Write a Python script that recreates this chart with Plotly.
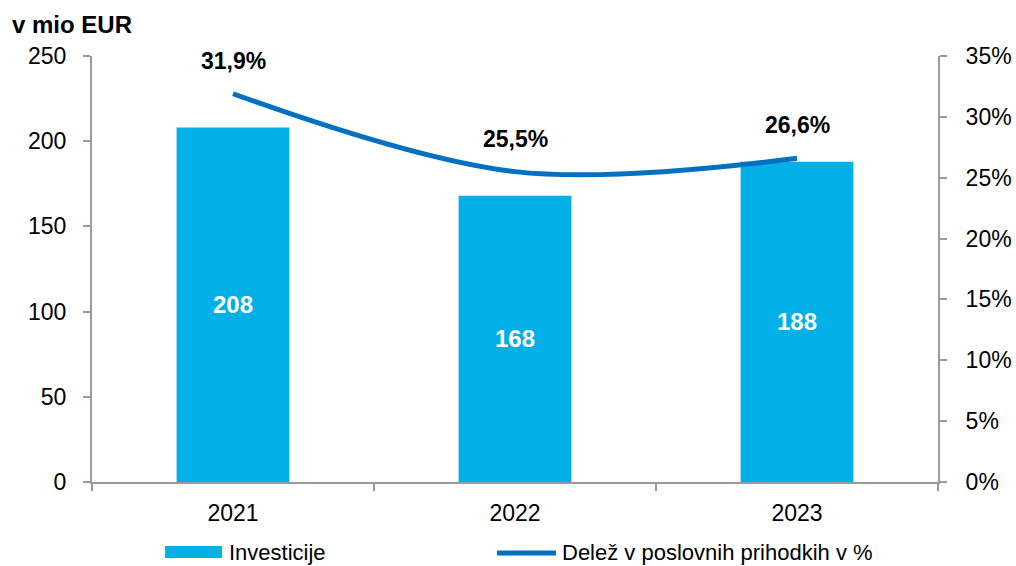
import plotly.graph_objects as go

years = ["2021", "2022", "2023"]
investicije = [208, 168, 188]
delez = [31.9, 25.5, 26.6]
delez_labels = ["31,9%", "25,5%", "26,6%"]
left_ticks = [0, 50, 100, 150, 200, 250]
right_ticks = [0, 5, 10, 15, 20, 25, 30, 35]
right_tick_text = ["0%", "5%", "10%", "15%", "20%", "25%", "30%", "35%"]

BAR = "#00B0E6"
LINE = "#0070C0"
AX = "#9a9a9a"
FONT = "Liberation Sans, Arial, sans-serif"

fig = go.Figure()
fig.add_trace(go.Bar(
    x=years, y=investicije, name="Investicije",
    marker=dict(color=BAR, line=dict(width=0)),
    width=0.4,
    text=[str(v) for v in investicije], textposition="inside",
    insidetextanchor="middle",
    textfont=dict(color="white", size=24, family=FONT, weight="bold"),
    showlegend=False,
))
fig.add_trace(go.Scatter(
    x=years, y=delez, name="Delež v poslovnih prihodkih v %",
    mode="lines", yaxis="y2",
    line=dict(color=LINE, width=5, shape="spline", smoothing=1.0),
    showlegend=False,
))

for i, (v, lab) in enumerate(zip(delez, delez_labels)):
    fig.add_annotation(x=i, y=v, xref="x", yref="y2", text=lab, showarrow=False,
                       yshift=33, font=dict(size=23, color="black", family=FONT, weight="bold"))

# Title
fig.add_annotation(xref="paper", yref="paper", x=-82/846, y=1 + 31/426, xanchor="left", yanchor="middle",
                   text="<b>v mio EUR</b>", showarrow=False,
                   font=dict(size=24, color="black", family=FONT))

# Manual legend
def px_x(px):
    return (px - 92) / 846
def px_y(py):
    return (482 - py) / 426

fig.add_shape(type="rect", xref="paper", yref="paper",
              x0=px_x(165), x1=px_x(222), y0=px_y(558), y1=px_y(546),
              fillcolor=BAR, line=dict(width=0))
fig.add_annotation(xref="paper", yref="paper", x=px_x(227), y=px_y(552), xanchor="left", yanchor="middle",
                   text="Investicije", showarrow=False, font=dict(size=22, color="black", family=FONT))
fig.add_shape(type="line", xref="paper", yref="paper",
              x0=px_x(497), x1=px_x(556), y0=px_y(553), y1=px_y(553),
              line=dict(color=LINE, width=5))
fig.add_annotation(xref="paper", yref="paper", x=px_x(560), y=px_y(552), xanchor="left", yanchor="middle",
                   text="Delež v poslovnih prihodkih v %", showarrow=False,
                   font=dict(size=22, color="black", family=FONT))

fig.update_layout(
    width=1016, height=566,
    margin=dict(l=92, r=78, t=56, b=84, pad=0),
    paper_bgcolor="white", plot_bgcolor="white",
    font=dict(family=FONT, size=23, color="black"),
    bargap=0.6,
    xaxis=dict(type="category", range=[-0.5, 2.5], showline=True, linecolor=AX, linewidth=2,
               ticks="outside", tickson="boundaries", ticklen=7, tickcolor=AX, tickwidth=2,
               showgrid=False, zeroline=False, tickfont=dict(size=23), ticklabelstandoff=9,
               automargin=False),
    yaxis=dict(range=[0, 250], tickvals=left_ticks, showline=True, linecolor=AX, linewidth=2,
               ticks="outside", ticklen=7, tickcolor=AX, tickwidth=2,
               showgrid=False, zeroline=False, tickfont=dict(size=23), ticklabelstandoff=12,
               automargin=False),
    yaxis2=dict(range=[0, 35], overlaying="y", side="right", tickvals=right_ticks,
                ticktext=right_tick_text, showline=True, linecolor=AX, linewidth=2,
                ticks="outside", ticklen=7, tickcolor=AX, tickwidth=2,
                showgrid=False, zeroline=False, tickfont=dict(size=23), ticklabelstandoff=14,
                automargin=False),
)

fig.write_html("out.html", config={"displayModeBar": False},
               post_script="document.body.style.margin='0px';")
